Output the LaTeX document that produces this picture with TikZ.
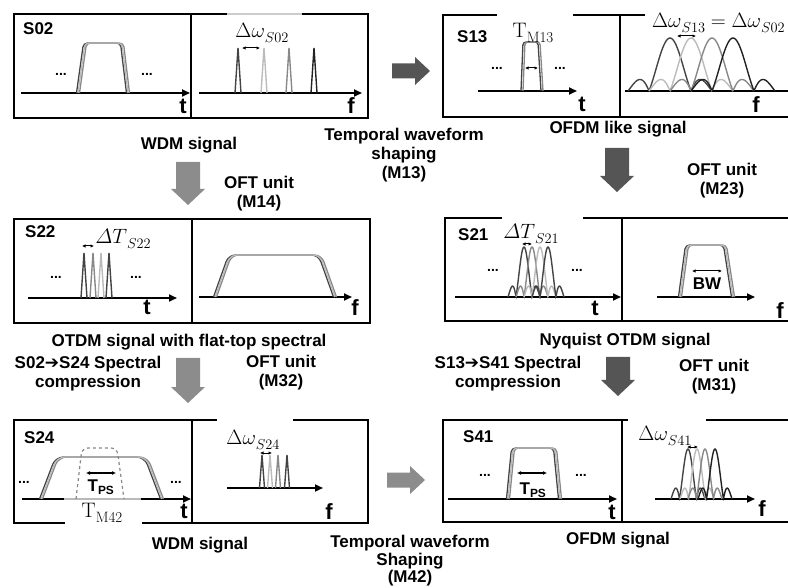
\documentclass[tikz,border=0pt]{standalone}
\usepackage{fontspec}
\setsansfont{Liberation Sans}
\newfontfamily\symfont{DejaVu Sans}
\usepackage{tikz}
\usetikzlibrary{arrows.meta}

\definecolor{arrdark}{HTML}{555555}
\definecolor{arrlight}{HTML}{8C8C8C}
\definecolor{gdark}{HTML}{444444}
\definecolor{gmid}{HTML}{888888}
\definecolor{glight}{HTML}{BBBBBB}
\definecolor{gblack}{HTML}{222222}

% subscript set a little larger than TeX's default
\newcommand\lowsub[1]{\raisebox{-4.5pt}{\fontsize{15}{15}\selectfont$#1$}}

\begin{document}
\begin{tikzpicture}[x=1pt, y=-1pt,
    boxline/.style={line width=2pt, black},
    axisline/.style={line width=1.8pt, -{Triangle[length=8pt,width=7pt]}},
    pulse/.style={line width=1.3pt, rounded corners=4pt},
    specline/.style={line width=1.4pt},
    dimarrow/.style={line width=1pt, {Latex[length=3.5pt,width=3.5pt]}-{Latex[length=3.5pt,width=3.5pt]}},
    lbl/.style={font=\sffamily\bfseries\fontsize{17}{19}\selectfont, inner sep=0pt, align=center},
    tag/.style={lbl, anchor=west},
    axlbl/.style={font=\sffamily\bfseries\fontsize{22}{22}\selectfont, inner sep=0pt},
    mlbl/.style={font=\fontsize{21}{23}\selectfont, inner sep=0pt},
    dotlbl/.style={font=\sffamily\bfseries\fontsize{14}{14}\selectfont, inner sep=0pt}]
    \useasboundingbox (0,0) rectangle (788,588);

    % ---- S02 : WDM signal
    \draw[boxline] (14,14) rectangle (368,118);
    \draw[boxline] (191,14) -- (191,118);
    \draw[line width=2.2pt, gray!40] (227,14) -- (302,14);
    \draw[axisline] (21,93) -- (190,93);
    \draw[axisline] (199,93) -- (362,93);
    \foreach \d/\c in {-1.5/gdark, 1.5/gmid, 0/glight}
        \draw[pulse, \c, xshift=\d] (78,93) -- (85,43) -- (122,43) -- (128,93);
    \foreach \x/\c in {238/gdark, 264/glight, 289/gmid, 314/gblack}
        \draw[specline, \c] (\x-3,93) -- (\x,48) -- (\x+3,93);
    \draw[dimarrow] (242,48) -- (260,48);
    \node[tag] (s02) at (23,29) {S02};
    \node[mlbl] (dw02) at (262,33) {$\Delta\omega$\lowsub{S02}};
    \node[dotlbl] (d02a) at (61,74) {...};
    \node[dotlbl] (d02b) at (147,74) {...};
    \node[axlbl] (t02) at (183,106) {t};
    \node[axlbl] (f02) at (351,106) {f};

    % ---- S13 : OFDM like signal
    \draw[boxline] (497,15) -- (443,15) -- (443,117) -- (790,117);
    \draw[boxline] (573,15) -- (645,15);
    \draw[boxline] (620,15) -- (620,117);
    \draw[axisline] (478,91) -- (577,91);
    \draw[line width=1.8pt] (625,91) -- (790,91);
    \foreach \d/\c in {-1/gdark, 1/gmid}
        \draw[pulse, rounded corners=3pt, \c, xshift=\d] (522,91) -- (524,42) -- (539,42) -- (542,91);
    \draw[dimarrow] (525,68) -- (538,68);
    \foreach \p/\c in {670/gdark, 691/glight, 712/gmid, 733/gblack}
        \draw[specline, \c] plot[domain=-2:2, samples=80]
            ({\p+21*\x}, {91-53*abs(sin(180*\x)/(3.14159*\x))});
    \draw[dimarrow] (677,36) -- (696,36);
    \node[tag] (s13) at (457,37) {S13};
    \node[mlbl] (tm13) at (533,33) {T\lowsub{\mathrm{M13}}};
    \node[mlbl, anchor=west] (dw13) at (652,23) {$\Delta\omega$\lowsub{S13}${}=\Delta\omega$\lowsub{S02}};
    \node[dotlbl] (d13a) at (497,68) {...};
    \node[dotlbl] (d13b) at (560,68) {...};
    \node[axlbl] (t13) at (582,104) {t};
    \node[axlbl] (f13) at (756,105) {f};

    % ---- labels between the rows
    \node[lbl] (wdm1) at (189,145) {WDM signal};
    \node[lbl] (oft14) at (259,194) {OFT unit\\(M14)};
    \node[lbl] (tws13) at (404,155) {Temporal waveform\\shaping\\(M13)};
    \node[lbl] (ofdml) at (618,129) {OFDM like signal};
    \node[lbl] (oft23) at (722,181) {OFT unit\\(M23)};

    % ---- S22 : OTDM signal with flat-top spectral
    \draw[boxline] (14,219) rectangle (370,323);
    \draw[boxline] (192,219) -- (192,323);
    \draw[axisline] (28,298) -- (177,298);
    \draw[axisline] (199,297) -- (352,297);
    \foreach \x/\c in {84/gdark, 93/gmid, 101/glight, 109/gdark}
        \draw[specline, \c] (\x-3,298) -- (\x,253) -- (\x+3,298);
    \draw[dimarrow] (82,246) -- (94,246);
    \foreach \d/\c in {-1.5/gdark, 1.5/gmid, 0/glight}
        \draw[pulse, rounded corners=7pt, \c, xshift=\d] (215,297) -- (230,255) -- (320,255) -- (335,297);
    \node[tag] (s22) at (25,232) {S22};
    \node[mlbl] (dt22) at (123,239) {$\mathnormal{\Delta}T$\lowsub{S22}};
    \node[dotlbl] (d22a) at (56,277) {...};
    \node[dotlbl] (d22b) at (136,277) {...};
    \node[axlbl] (t22) at (147,307) {t};
    \node[axlbl] (f22) at (355,308) {f};

    % ---- S21 : Nyquist OTDM signal
    \draw[boxline] (502,218) -- (445,218) -- (445,321) -- (790,321);
    \draw[boxline] (583,218) -- (790,218);
    \draw[boxline] (622,218) -- (622,321);
    \draw[axisline] (455,297) -- (621,297);
    \draw[axisline] (657,297) -- (755,297);
    \foreach \p/\c in {524/gdark, 532/gmid, 540/glight, 548/gdark}
        \draw[specline, \c] plot[domain=-2:2, samples=80]
            ({\p+8*\x}, {297-50*abs(sin(180*\x)/(3.14159*\x))});
    \draw[dimarrow] (522,244) -- (532,244);
    \foreach \d/\c in {-1.5/gdark, 1.5/gmid, 0/glight}
        \draw[pulse, \c, xshift=\d] (680,297) -- (687,245) -- (725,245) -- (733,297);
    \draw[dimarrow] (692,271) -- (722,271);
    \node[tag] (s21) at (458,235) {S21};
    \node[mlbl] (dt21) at (531,234) {$\mathnormal{\Delta}T$\lowsub{S21}};
    \node[dotlbl] (d21a) at (493,270) {...};
    \node[dotlbl] (d21b) at (577,270) {...};
    \node[lbl] (bw) at (707,284) {BW};
    \node[axlbl] (t21) at (595,308) {t};
    \node[axlbl] (f21) at (780,311) {f};

    % ---- labels between the rows
    \node[lbl] (otdm) at (189,342) {OTDM signal with flat-top spectral};
    \node[lbl] (nyq) at (625,341) {Nyquist OTDM signal};
    \node[lbl] (comp24) at (88,374) {S02{\symfont\mdseries ➔}S24 Spectral\\compression};
    \node[lbl] (oft32) at (281,373) {OFT unit\\(M32)};
    \node[lbl] (comp41) at (508,374) {S13{\symfont\mdseries ➔}S41 Spectral\\compression};
    \node[lbl] (oft31) at (714,377) {OFT unit\\(M31)};

    % ---- S24 : WDM signal
    \draw[boxline] (217,420) -- (14,420) -- (14,523) -- (65,523);
    \draw[boxline] (293,420) -- (368,420) -- (368,523) -- (142,523);
    \draw[boxline] (192,420) -- (192,523);
    \draw[line width=1.8pt] (22,499) -- (64,499);
    \draw[line width=1.8pt, gray!55] (64,499) -- (141,499);
    \draw[axisline] (141,499) -- (191,499);
    \draw[axisline] (227,488) -- (323,488);
    \foreach \d/\c in {-1.5/gdark, 1.5/gmid, 0/glight}
        \draw[pulse, rounded corners=8pt, \c, xshift=\d] (41,499) -- (57,457) -- (146,457) -- (162,499);
    \draw[gmid, dashed, line width=1.2pt, rounded corners=6pt] (76,499) -- (82,448) -- (117,448) -- (124,499);
    \draw[line width=1.3pt, {Latex[length=4pt,width=4pt]}-{Latex[length=4pt,width=4pt]}] (86,473) -- (116,473);
    \foreach \x/\c in {262/gdark, 270/glight, 278/gmid, 287/gdark}
        \draw[specline, \c] (\x-2.5,488) -- (\x,455) -- (\x+2.5,488);
    \draw[dimarrow] (260,453) -- (272,453);
    \node[tag] (s24) at (24,438) {S24};
    \node[lbl] (tps24) at (101,487) {T\textsubscript{PS}};
    \node[mlbl] (tm42) at (102,513) {T\lowsub{\mathrm{M42}}};
    \node[mlbl] (dw24) at (253,440) {$\Delta\omega$\lowsub{S24}};
    \node[dotlbl] (d24a) at (24,482) {...};
    \node[dotlbl] (d24b) at (176,482) {...};
    \node[axlbl] (t24) at (184,511) {t};
    \node[axlbl] (f24) at (329,512) {f};

    % ---- S41 : OFDM signal
    \draw[boxline] (628,420) -- (443,420) -- (443,522) -- (790,522);
    \draw[boxline] (706,420) -- (790,420);
    \draw[boxline] (622,420) -- (622,522);
    \draw[axisline] (448,499) -- (617,499);
    \draw[axisline] (655,499) -- (755,499);
    \foreach \d/\c in {-1.5/gdark, 1.5/gmid, 0/glight}
        \draw[pulse, \c, xshift=\d] (508,499) -- (513,448) -- (555,448) -- (560,499);
    \draw[line width=1.3pt, {Latex[length=4pt,width=4pt]}-{Latex[length=4pt,width=4pt]}] (517,473) -- (547,473);
    \foreach \p/\c in {688/gdark, 697/glight, 705/gmid, 715/gblack}
        \draw[specline, \c] plot[domain=-2:2, samples=80]
            ({\p+8.5*\x}, {499-50*abs(sin(180*\x)/(3.14159*\x))});
    \draw[dimarrow] (687,447) -- (698,447);
    \node[tag] (s41) at (463,437) {S41};
    \node[lbl] (tps41) at (533,490) {T\textsubscript{PS}};
    \node[mlbl] (dw41) at (665,436) {$\Delta\omega$\lowsub{S41}};
    \node[dotlbl] (d41a) at (485,475) {...};
    \node[dotlbl] (d41b) at (581,475) {...};
    \node[axlbl] (t41) at (612,512) {t};
    \node[axlbl] (f41) at (762,509) {f};

    % ---- bottom labels
    \node[lbl] (wdm2) at (200,545) {WDM signal};
    \node[lbl, font=\sffamily\bfseries\fontsize{17}{17.5}\selectfont] (tws42) at (410,561) {Temporal waveform\\Shaping\\(M42)};
    \node[lbl] (ofdm) at (618,540) {OFDM signal};

    % ---- block arrows
    \foreach \x/\ya/\yb/\c in {188/162/205/arrlight, 617/148/192/arrdark,
                              188/358/403/arrlight, 618/357/396/arrdark}
        \fill[\c] (\x-12,\ya) -- (\x+12,\ya) -- (\x+12,\yb-16) -- (\x+17,\yb-16)
            -- (\x,\yb) -- (\x-17,\yb-16) -- (\x-12,\yb-16) -- cycle;
    \foreach \xa/\xb/\y/\c in {392/430/71/arrdark, 387/425/480/arrlight}
        \fill[\c] (\xa,\y-7.5) -- (\xb-15,\y-7.5) -- (\xb-15,\y-14) -- (\xb,\y)
            -- (\xb-15,\y+14) -- (\xb-15,\y+7.5) -- (\xa,\y+7.5) -- cycle;
\end{tikzpicture}
\end{document}
